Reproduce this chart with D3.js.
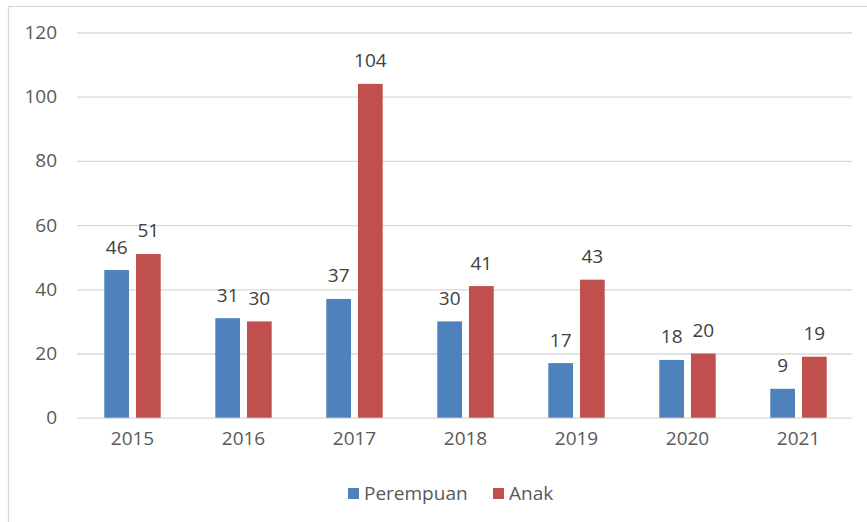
<!DOCTYPE html>
<html>
<head>
<meta charset="utf-8">
<script src="https://cdn.jsdelivr.net/npm/d3@7"></script>
<style>
  html, body { margin: 0; padding: 0; background: #fff; }
  svg { display: block; font-family: "Open Sans", sans-serif; }
</style>
</head>
<body>
<div id="chart"></div>
<script>
const years = ["2015", "2016", "2017", "2018", "2019", "2020", "2021"];
const seriesNames = ["Perempuan", "Anak"];
const perempuan = [46, 31, 37, 30, 17, 18, 9];
const anak = [51, 30, 104, 41, 43, 20, 19];
const yTicks = [0, 20, 40, 60, 80, 100, 120];
const colors = ["#4F81BD", "#C0504D"];

const width = 867, height = 522;
const plot = { left: 77, right: 854, top: 32.5, bottom: 417.7 };

const rows = years.map((y, i) => ({ year: y, values: [perempuan[i], anak[i]] }));

const svg = d3.select("#chart").append("svg")
  .attr("width", width)
  .attr("height", height);

// chart frame
svg.append("rect")
  .attr("x", 8.5).attr("y", 6.5)
  .attr("width", width).attr("height", height)
  .attr("fill", "none")
  .attr("stroke", "#d9d9d9")
  .attr("stroke-width", 1.3);

const x0 = d3.scaleBand().domain(years).range([plot.left, plot.right]);
const x1 = d3.scaleBand().domain(seriesNames).range([-28.2, 28.2]).paddingInner(0.22);
const y = d3.scaleLinear().domain([0, 120]).range([plot.bottom, plot.top]);

// gridlines + y labels
const yAxis = d3.axisLeft(y).tickValues(yTicks).tickSize(-(plot.right - plot.left - 2)).tickPadding(20);
const gy = svg.append("g")
  .attr("transform", `translate(${plot.left},0)`)
  .call(yAxis);
gy.select(".domain").remove();
gy.selectAll(".tick line").attr("stroke", "#d9d9d9").attr("stroke-width", 1.3);
gy.selectAll(".tick text")
  .attr("fill", "#595959")
  .attr("font-size", 19)
  .attr("font-family", "Open Sans");

// bars
const group = svg.append("g").selectAll("g")
  .data(rows)
  .join("g")
  .attr("transform", d => `translate(${x0(d.year) + x0.bandwidth() / 2},0)`);

group.selectAll("rect")
  .data(d => d.values.map((v, i) => ({ key: seriesNames[i], v, i })))
  .join("rect")
  .attr("x", d => x1(d.key))
  .attr("y", d => y(d.v))
  .attr("width", x1.bandwidth())
  .attr("height", d => y(0) - y(d.v))
  .attr("fill", d => colors[d.i]);

group.selectAll("text")
  .data(d => d.values.map((v, i) => ({ key: seriesNames[i], v, i })))
  .join("text")
  .attr("x", d => x1(d.key) + x1.bandwidth() / 2)
  .attr("y", d => y(d.v) - 16.5)
  .attr("text-anchor", "middle")
  .attr("fill", "#404040")
  .attr("font-size", 19)
  .text(d => d.v);

// x labels
const xAxis = d3.axisBottom(x0).tickSize(0).tickPadding(14);
const gx = svg.append("g")
  .attr("transform", `translate(0,${plot.bottom})`)
  .call(xAxis);
gx.select(".domain").remove();
gx.selectAll(".tick text")
  .attr("fill", "#595959")
  .attr("font-size", 19)
  .attr("font-family", "Open Sans");

// legend
const legendX = [348, 493];
const legend = svg.append("g").selectAll("g")
  .data(seriesNames)
  .join("g")
  .attr("transform", (d, i) => `translate(${legendX[i]},488)`);
legend.append("rect")
  .attr("width", 11).attr("height", 11)
  .attr("fill", (d, i) => colors[i]);
legend.append("text")
  .attr("x", 16).attr("y", 12)
  .attr("fill", "#595959")
  .attr("font-size", 19)
  .text(d => d);
</script>
</body>
</html>
